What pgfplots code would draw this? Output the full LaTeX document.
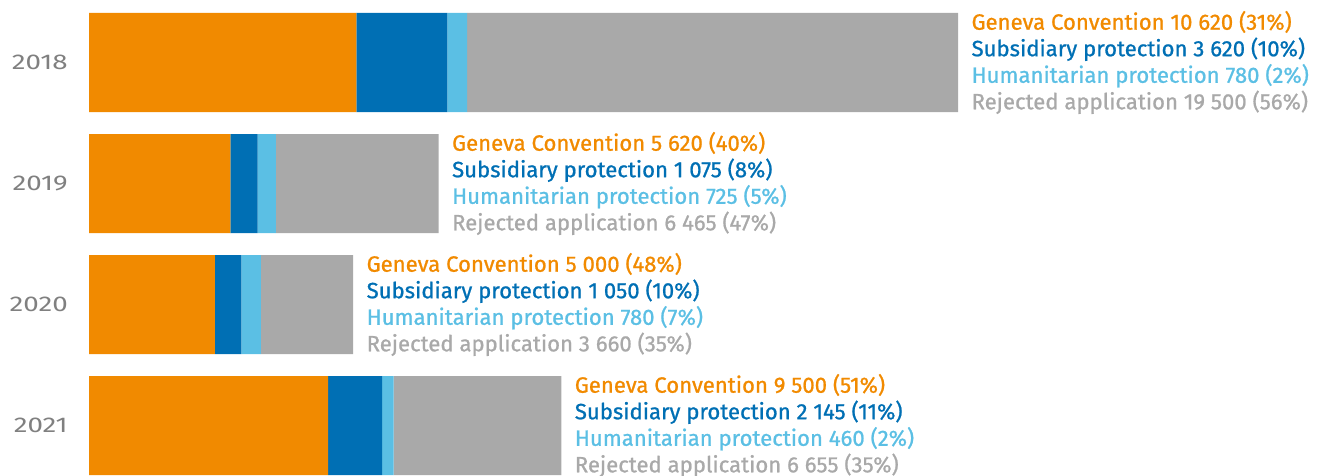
\documentclass[border=0pt]{standalone}
\usepackage{pgfplots}
\pgfplotsset{compat=1.18}
\usepackage{fontspec}
\setmainfont{Fira Sans}
\newfontfamily\lblfont{Fira Sans}[FakeBold=0.9]
\definecolor{cGen}{HTML}{F18A00}
\definecolor{cSub}{HTML}{006FB4}
\definecolor{cHum}{HTML}{5BBFE4}
\definecolor{cRej}{HTML}{A9A9A9}
\definecolor{cYear}{HTML}{808080}
\begin{document}
\begin{tikzpicture}
\begin{axis}[
  scale only axis, width=1001.25pt, height=356.25pt,
  xbar stacked, bar width=74.25pt,
  xmin=-3535.4, xmax=49496, ymin=-0.5165, ymax=3.4091, y dir=reverse,
  hide axis, clip=false,
  every axis plot/.append style={draw=none},
]
\addplot[fill=cGen] coordinates {(10620,0) (5620,1) (5000,2) (9500,3)};
\addplot[fill=cSub] coordinates {(3620,0) (1075,1) (1050,2) (2145,3)};
\addplot[fill=cHum] coordinates {(780,0) (725,1) (780,2) (460,3)};
\addplot[fill=cRej] coordinates {(19500,0) (6465,1) (3660,2) (6655,3)};
\tikzset{yl/.style={anchor=east, text=cYear, font=\fontsize{16pt}{19.9pt}\selectfont, xshift=-15.75pt, inner sep=0pt},
  bl/.style={anchor=west, align=left, inner sep=0pt, xshift=10pt, font=\fontsize{16.6pt}{19.9pt}\selectfont\lblfont}}
\node[yl] at (axis cs:0,0) {\scalebox{1.3}[1]{2018}};
\node[yl] at (axis cs:0,1) {\scalebox{1.3}[1]{2019}};
\node[yl] at (axis cs:0,2) {\scalebox{1.3}[1]{2020}};
\node[yl] at (axis cs:0,3) {\scalebox{1.3}[1]{2021}};
\node[bl] at (axis cs:34520,0) {\textcolor{cGen}{Geneva Convention 10 620 (31\%)}\\\textcolor{cSub}{Subsidiary protection 3 620 (10\%)}\\\textcolor{cHum}{Humanitarian protection 780 (2\%)}\\\textcolor{cRej}{Rejected application 19 500 (56\%)}};
\node[bl] at (axis cs:13885,1) {\textcolor{cGen}{Geneva Convention 5 620 (40\%)}\\\textcolor{cSub}{Subsidiary protection 1 075 (8\%)}\\\textcolor{cHum}{Humanitarian protection 725 (5\%)}\\\textcolor{cRej}{Rejected application 6 465 (47\%)}};
\node[bl] at (axis cs:10490,2) {\textcolor{cGen}{Geneva Convention 5 000 (48\%)}\\\textcolor{cSub}{Subsidiary protection 1 050 (10\%)}\\\textcolor{cHum}{Humanitarian protection 780 (7\%)}\\\textcolor{cRej}{Rejected application 3 660 (35\%)}};
\node[bl] at (axis cs:18760,3) {\textcolor{cGen}{Geneva Convention 9 500 (51\%)}\\\textcolor{cSub}{Subsidiary protection 2 145 (11\%)}\\\textcolor{cHum}{Humanitarian protection 460 (2\%)}\\\textcolor{cRej}{Rejected application 6 655 (35\%)}};
\end{axis}
\pgfresetboundingbox
\path[use as bounding box] (current axis.south west) rectangle (current axis.north east);
\end{tikzpicture}
\end{document}
